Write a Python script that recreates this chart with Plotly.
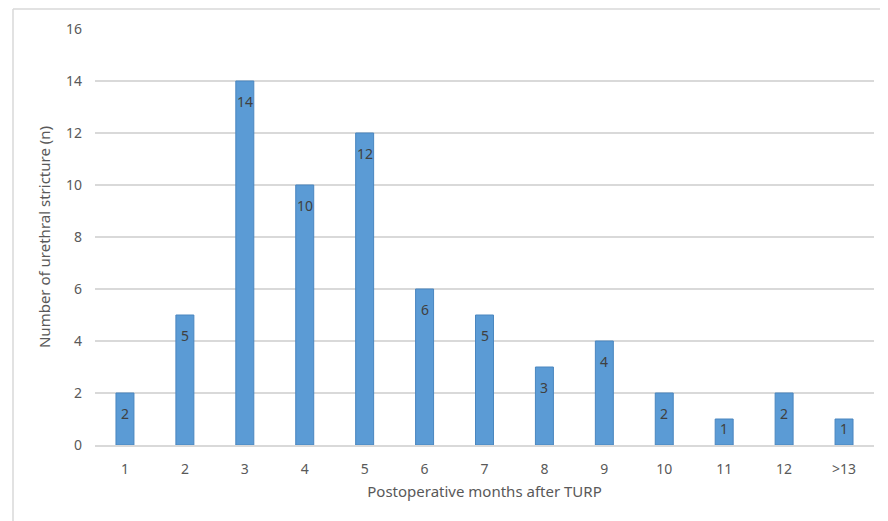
import plotly.graph_objects as go

categories = ["1", "2", "3", "4", "5", "6", "7", "8", "9", "10", "11", "12", ">13"]
values = [2, 5, 14, 10, 12, 6, 5, 3, 4, 2, 1, 2, 1]

x_title = "Postoperative months after TURP"
y_title = "Number of urethral stricture (n)"

# page body has an 8px margin, so the figure is 8px smaller than the window
OFF = 8
W, H = 888 - OFF, 521 - OFF
ml, mr, mt, mb = 95 - OFF, 14, 29 - OFF, 76
pw = W - ml - mr
ph = H - mt - mb

fig = go.Figure()
fig.add_trace(go.Bar(
    x=categories, y=values,
    marker=dict(color="#5B9BD5", line=dict(color="#4A86BF", width=1)),
    hoverinfo="x+y",
))

for i, v in enumerate(values):
    # short bars get their label nearer the top edge so it stays inside
    shift = -9 if v > 1 else 2
    fig.add_annotation(x=i, y=v, text=str(v), showarrow=False, yanchor="top",
                       yshift=shift, font=dict(size=14, color="#404040"))

# outer chart border (left and top edges visible)
bx = (13 - OFF - ml) / pw
by = (H - mb - (9 - OFF)) / ph
fig.add_shape(type="line", xref="paper", yref="paper", x0=bx, x1=1.2, y0=by, y1=by,
              line=dict(color="#D9D9D9", width=1.5))
fig.add_shape(type="line", xref="paper", yref="paper", x0=bx, x1=bx, y0=by, y1=-0.3,
              line=dict(color="#D9D9D9", width=1.5))

fig.update_layout(
    width=W, height=H,
    margin=dict(l=ml, r=mr, t=mt, b=mb),
    paper_bgcolor="white", plot_bgcolor="white",
    bargap=0.7,
    showlegend=False,
    font=dict(family="Noto Sans", size=14, color="#595959"),
    xaxis=dict(
        type="category", showgrid=False, showline=True, linecolor="#D9D9D9", linewidth=1.5,
        ticks="", ticklabelstandoff=10,
        tickfont=dict(size=14, color="#595959"),
        title=dict(text=x_title, font=dict(size=15, color="#595959"), standoff=10),
    ),
    yaxis=dict(
        range=[0, 16], dtick=2, showgrid=True, gridcolor="#D9D9D9", gridwidth=1.5,
        zeroline=False, showline=False, ticks="", ticklabelstandoff=12,
        tickfont=dict(size=14, color="#595959"),
        title=dict(text=y_title, font=dict(size=15, color="#595959"), standoff=11),
    ),
)

fig.write_html("out.html")
